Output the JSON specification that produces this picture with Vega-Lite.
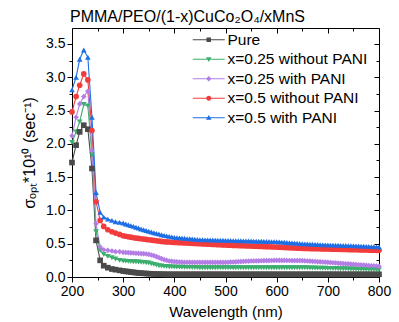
{
  "$schema": "https://vega.github.io/schema/vega-lite/v6.json",
  "width": 307,
  "height": 249,
  "autosize": {"type": "none"},
  "padding": {"left": 72, "top": 28, "right": 20, "bottom": 45},
  "title": {"text": "PMMA/PEO/(1-x)CuCo₂O₄/xMnS", "anchor": "start", "frame": "group", "fontSize": 16, "font": "Liberation Sans", "fontWeight": "normal", "color": "black", "offset": 3, "dx": -2},
  "data": {"values": [
    {"x":200,"p":1.72,"g":2.02,"v":2.12,"r":2.48,"b":2.81},
    {"x":208,"p":1.98,"g":2.18,"v":2.40,"r":2.71,"b":3.00},
    {"x":215,"p":2.18,"g":2.33,"v":2.60,"r":2.88,"b":3.27},
    {"x":223,"p":2.28,"g":2.59,"v":2.71,"r":3.05,"b":3.41},
    {"x":231,"p":2.22,"g":2.57,"v":2.79,"r":2.96,"b":3.30},
    {"x":239,"p":1.63,"g":1.83,"v":1.90,"r":2.20,"b":2.40},
    {"x":247,"p":0.55,"g":0.68,"v":0.80,"r":1.13,"b":1.27},
    {"x":255,"p":0.25,"g":0.40,"v":0.45,"r":0.85,"b":0.97},
    {"x":262,"p":0.17,"g":0.34,"v":0.41,"r":0.76,"b":0.90},
    {"x":270,"p":0.14,"g":0.31,"v":0.40,"r":0.71,"b":0.87},
    {"x":278,"p":0.12,"g":0.29,"v":0.39,"r":0.68,"b":0.85},
    {"x":285,"p":0.11,"g":0.27,"v":0.38,"r":0.66,"b":0.83},
    {"x":293,"p":0.10,"g":0.25,"v":0.38,"r":0.64,"b":0.82},
    {"x":300,"p":0.09,"g":0.24,"v":0.37,"r":0.62,"b":0.81},
    {"x":305,"p":0.085,"g":0.238,"v":0.368,"r":0.612,"b":0.797},
    {"x":310,"p":0.08,"g":0.235,"v":0.365,"r":0.605,"b":0.785},
    {"x":315,"p":0.075,"g":0.232,"v":0.362,"r":0.598,"b":0.772},
    {"x":320,"p":0.07,"g":0.23,"v":0.36,"r":0.59,"b":0.76},
    {"x":325,"p":0.065,"g":0.228,"v":0.357,"r":0.585,"b":0.747},
    {"x":330,"p":0.06,"g":0.225,"v":0.355,"r":0.58,"b":0.735},
    {"x":335,"p":0.058,"g":0.222,"v":0.352,"r":0.575,"b":0.722},
    {"x":340,"p":0.055,"g":0.22,"v":0.35,"r":0.57,"b":0.71},
    {"x":345,"p":0.052,"g":0.215,"v":0.345,"r":0.565,"b":0.699},
    {"x":350,"p":0.05,"g":0.21,"v":0.34,"r":0.56,"b":0.688},
    {"x":355,"p":0.048,"g":0.20,"v":0.33,"r":0.555,"b":0.676},
    {"x":360,"p":0.045,"g":0.19,"v":0.32,"r":0.55,"b":0.665},
    {"x":365,"p":0.044,"g":0.18,"v":0.305,"r":0.545,"b":0.655},
    {"x":370,"p":0.043,"g":0.17,"v":0.29,"r":0.54,"b":0.645},
    {"x":375,"p":0.042,"g":0.165,"v":0.275,"r":0.535,"b":0.635},
    {"x":380,"p":0.041,"g":0.16,"v":0.26,"r":0.53,"b":0.625},
    {"x":385,"p":0.04,"g":0.157,"v":0.25,"r":0.527,"b":0.617},
    {"x":390,"p":0.04,"g":0.155,"v":0.24,"r":0.525,"b":0.61},
    {"x":395,"p":0.04,"g":0.152,"v":0.235,"r":0.522,"b":0.602},
    {"x":400,"p":0.04,"g":0.15,"v":0.23,"r":0.52,"b":0.595},
    {"x":405,"p":0.04,"g":0.149,"v":0.228,"r":0.518,"b":0.591},
    {"x":410,"p":0.04,"g":0.148,"v":0.225,"r":0.516,"b":0.588},
    {"x":415,"p":0.04,"g":0.147,"v":0.224,"r":0.514,"b":0.584},
    {"x":420,"p":0.04,"g":0.146,"v":0.222,"r":0.512,"b":0.581},
    {"x":425,"p":0.04,"g":0.145,"v":0.221,"r":0.51,"b":0.577},
    {"x":430,"p":0.04,"g":0.144,"v":0.22,"r":0.508,"b":0.574},
    {"x":435,"p":0.04,"g":0.143,"v":0.22,"r":0.506,"b":0.57},
    {"x":440,"p":0.04,"g":0.142,"v":0.22,"r":0.504,"b":0.567},
    {"x":445,"p":0.04,"g":0.141,"v":0.22,"r":0.502,"b":0.563},
    {"x":450,"p":0.04,"g":0.14,"v":0.22,"r":0.50,"b":0.56},
    {"x":455,"p":0.04,"g":0.14,"v":0.22,"r":0.498,"b":0.559},
    {"x":460,"p":0.04,"g":0.14,"v":0.22,"r":0.496,"b":0.558},
    {"x":465,"p":0.04,"g":0.14,"v":0.22,"r":0.494,"b":0.557},
    {"x":470,"p":0.04,"g":0.14,"v":0.22,"r":0.492,"b":0.556},
    {"x":475,"p":0.04,"g":0.14,"v":0.22,"r":0.49,"b":0.555},
    {"x":480,"p":0.04,"g":0.14,"v":0.22,"r":0.488,"b":0.554},
    {"x":485,"p":0.04,"g":0.14,"v":0.22,"r":0.486,"b":0.553},
    {"x":490,"p":0.04,"g":0.14,"v":0.22,"r":0.484,"b":0.552},
    {"x":495,"p":0.04,"g":0.14,"v":0.22,"r":0.482,"b":0.551},
    {"x":500,"p":0.04,"g":0.14,"v":0.22,"r":0.48,"b":0.55},
    {"x":505,"p":0.04,"g":0.14,"v":0.222,"r":0.478,"b":0.549},
    {"x":510,"p":0.04,"g":0.14,"v":0.224,"r":0.477,"b":0.548},
    {"x":515,"p":0.04,"g":0.14,"v":0.226,"r":0.475,"b":0.547},
    {"x":520,"p":0.04,"g":0.14,"v":0.228,"r":0.474,"b":0.546},
    {"x":525,"p":0.04,"g":0.14,"v":0.23,"r":0.472,"b":0.545},
    {"x":530,"p":0.04,"g":0.14,"v":0.232,"r":0.471,"b":0.544},
    {"x":535,"p":0.04,"g":0.14,"v":0.234,"r":0.469,"b":0.543},
    {"x":540,"p":0.04,"g":0.14,"v":0.236,"r":0.468,"b":0.542},
    {"x":545,"p":0.04,"g":0.14,"v":0.238,"r":0.466,"b":0.541},
    {"x":550,"p":0.04,"g":0.14,"v":0.24,"r":0.465,"b":0.54},
    {"x":555,"p":0.04,"g":0.14,"v":0.241,"r":0.463,"b":0.539},
    {"x":560,"p":0.04,"g":0.14,"v":0.242,"r":0.462,"b":0.538},
    {"x":565,"p":0.04,"g":0.14,"v":0.243,"r":0.46,"b":0.537},
    {"x":570,"p":0.04,"g":0.14,"v":0.244,"r":0.459,"b":0.536},
    {"x":575,"p":0.04,"g":0.14,"v":0.245,"r":0.457,"b":0.535},
    {"x":580,"p":0.04,"g":0.14,"v":0.246,"r":0.456,"b":0.534},
    {"x":585,"p":0.04,"g":0.14,"v":0.247,"r":0.454,"b":0.533},
    {"x":590,"p":0.04,"g":0.14,"v":0.248,"r":0.453,"b":0.532},
    {"x":595,"p":0.04,"g":0.14,"v":0.249,"r":0.451,"b":0.531},
    {"x":600,"p":0.04,"g":0.14,"v":0.25,"r":0.45,"b":0.53},
    {"x":605,"p":0.04,"g":0.14,"v":0.25,"r":0.448,"b":0.527},
    {"x":610,"p":0.04,"g":0.14,"v":0.249,"r":0.446,"b":0.524},
    {"x":615,"p":0.04,"g":0.14,"v":0.249,"r":0.444,"b":0.521},
    {"x":620,"p":0.04,"g":0.14,"v":0.248,"r":0.442,"b":0.518},
    {"x":625,"p":0.04,"g":0.14,"v":0.248,"r":0.44,"b":0.515},
    {"x":630,"p":0.04,"g":0.14,"v":0.247,"r":0.438,"b":0.512},
    {"x":635,"p":0.04,"g":0.14,"v":0.247,"r":0.436,"b":0.509},
    {"x":640,"p":0.04,"g":0.14,"v":0.246,"r":0.434,"b":0.506},
    {"x":645,"p":0.04,"g":0.14,"v":0.246,"r":0.432,"b":0.503},
    {"x":650,"p":0.04,"g":0.14,"v":0.245,"r":0.43,"b":0.50},
    {"x":655,"p":0.04,"g":0.139,"v":0.243,"r":0.429,"b":0.498},
    {"x":660,"p":0.04,"g":0.138,"v":0.24,"r":0.428,"b":0.496},
    {"x":665,"p":0.04,"g":0.137,"v":0.238,"r":0.427,"b":0.494},
    {"x":670,"p":0.04,"g":0.136,"v":0.235,"r":0.426,"b":0.492},
    {"x":675,"p":0.04,"g":0.135,"v":0.233,"r":0.425,"b":0.49},
    {"x":680,"p":0.04,"g":0.134,"v":0.23,"r":0.424,"b":0.488},
    {"x":685,"p":0.04,"g":0.133,"v":0.228,"r":0.423,"b":0.486},
    {"x":690,"p":0.04,"g":0.132,"v":0.225,"r":0.422,"b":0.484},
    {"x":695,"p":0.04,"g":0.131,"v":0.223,"r":0.421,"b":0.482},
    {"x":700,"p":0.04,"g":0.13,"v":0.22,"r":0.42,"b":0.48},
    {"x":705,"p":0.04,"g":0.129,"v":0.217,"r":0.419,"b":0.479},
    {"x":710,"p":0.04,"g":0.128,"v":0.214,"r":0.418,"b":0.478},
    {"x":715,"p":0.04,"g":0.127,"v":0.211,"r":0.417,"b":0.477},
    {"x":720,"p":0.04,"g":0.126,"v":0.208,"r":0.416,"b":0.476},
    {"x":725,"p":0.04,"g":0.125,"v":0.205,"r":0.415,"b":0.475},
    {"x":730,"p":0.04,"g":0.124,"v":0.202,"r":0.414,"b":0.474},
    {"x":735,"p":0.04,"g":0.123,"v":0.199,"r":0.413,"b":0.473},
    {"x":740,"p":0.04,"g":0.122,"v":0.196,"r":0.412,"b":0.472},
    {"x":745,"p":0.04,"g":0.121,"v":0.193,"r":0.411,"b":0.471},
    {"x":750,"p":0.04,"g":0.12,"v":0.19,"r":0.41,"b":0.47},
    {"x":755,"p":0.04,"g":0.119,"v":0.187,"r":0.409,"b":0.468},
    {"x":760,"p":0.04,"g":0.118,"v":0.184,"r":0.408,"b":0.466},
    {"x":765,"p":0.04,"g":0.117,"v":0.181,"r":0.407,"b":0.464},
    {"x":770,"p":0.04,"g":0.116,"v":0.178,"r":0.406,"b":0.462},
    {"x":775,"p":0.04,"g":0.115,"v":0.175,"r":0.405,"b":0.46},
    {"x":780,"p":0.04,"g":0.114,"v":0.172,"r":0.404,"b":0.458},
    {"x":785,"p":0.04,"g":0.113,"v":0.169,"r":0.403,"b":0.456},
    {"x":790,"p":0.04,"g":0.112,"v":0.166,"r":0.402,"b":0.454},
    {"x":795,"p":0.04,"g":0.111,"v":0.163,"r":0.401,"b":0.452},
    {"x":800,"p":0.04,"g":0.11,"v":0.16,"r":0.40,"b":0.45}
  ]},
  "transform": [{"fold": ["p", "g", "v", "r", "b"], "as": ["s", "y"]}],
  "layer": [
    {
      "mark": {"type": "line", "strokeWidth": 1.1},
      "encoding": {
        "x": {"field": "x", "type": "quantitative", "scale": {"domain": [200, 800], "nice": false, "zero": false},
          "axis": {"orient": "bottom", "title": "Wavelength (nm)", "values": [200,250,300,350,400,450,500,550,600,650,700,750,800],
            "labelExpr": "datum.value % 100 == 0 ? datum.value : ''",
            "tickSize": {"condition": {"test": "datum.value % 100 == 0", "value": 5}, "value": 3},
            "titlePadding": 6}},
        "y": {"field": "y", "type": "quantitative", "scale": {"domain": [0, 3.74], "nice": false, "zero": false},
          "axis": {"orient": "left", "title": "σₒₚₜ*10¹⁰ (sec⁻¹)", "values": [0,0.25,0.5,0.75,1,1.25,1.5,1.75,2,2.25,2.5,2.75,3,3.25,3.5],
            "labelExpr": "datum.value % 0.5 == 0 ? format(datum.value, '.1f') : ''",
            "tickSize": {"condition": {"test": "datum.value % 0.5 == 0", "value": 5}, "value": 3},
            "titlePadding": 8, "titleFontSize": 16}},
        "color": {"field": "s", "type": "nominal",
          "scale": {"domain": ["p", "g", "v", "r", "b"], "range": ["#4a4a4a", "#3cae6e", "#b47ee5", "#f23c3c", "#1e6fe6"]},
          "legend": null}
      }
    },
    {
      "mark": {"type": "point", "filled": true, "size": 32, "opacity": 1},
      "encoding": {
        "x": {"field": "x", "type": "quantitative", "axis": null},
        "y": {"field": "y", "type": "quantitative", "axis": null},
        "color": {"field": "s", "type": "nominal",
          "scale": {"domain": ["p", "g", "v", "r", "b"], "range": ["#4a4a4a", "#3cae6e", "#b47ee5", "#f23c3c", "#1e6fe6"]},
          "legend": null},
        "shape": {"field": "s", "type": "nominal",
          "scale": {"domain": ["p", "g", "v", "r", "b"], "range": ["square", "triangle-down", "diamond", "circle", "triangle-up"]},
          "legend": null}
      }
    },
    {
      "transform": [{"filter": "datum.x == 800"}],
      "mark": {"type": "point", "filled": true, "opacity": 0},
      "encoding": {
        "x": {"field": "x", "type": "quantitative",
          "axis": {"orient": "top", "title": null, "labels": false, "values": [200,250,300,350,400,450,500,550,600,650,700,750,800],
            "tickSize": {"condition": {"test": "datum.value % 100 == 0", "value": -5}, "value": -3}}},
        "y": {"field": "y", "type": "quantitative",
          "axis": {"orient": "right", "title": null, "labels": false, "values": [0,0.25,0.5,0.75,1,1.25,1.5,1.75,2,2.25,2.5,2.75,3,3.25,3.5],
            "tickSize": {"condition": {"test": "datum.value % 0.5 == 0", "value": -5}, "value": -3}}},
        "color": {"field": "s", "type": "nominal",
          "scale": {"domain": ["p", "g", "v", "r", "b"], "range": ["#4a4a4a", "#3cae6e", "#b47ee5", "#f23c3c", "#1e6fe6"]},
          "legend": {"orient": "none", "legendX": 129, "legendY": 4, "title": null, "padding": 0,
            "symbolSize": 100, "symbolStrokeWidth": 0, "symbolOpacity": 1, "labelOffset": 11, "rowPadding": 2.5,
            "labelFontSize": 15.5, "labelFont": "Liberation Sans", "labelColor": "black", "labelLimit": 300,
            "labelExpr": "{'p': 'Pure', 'g': 'x=0.25 without PANI', 'v': 'x=0.25 with PANI', 'r': 'x=0.5 without PANI', 'b': 'x=0.5 with PANI'}[datum.value]",
            "encode": {"symbols": {"update": {"opacity": {"value": 1}, "fillOpacity": {"value": 1}}}}}},
        "shape": {"field": "s", "type": "nominal",
          "scale": {"domain": ["p", "g", "v", "r", "b"], "range": [
            "M-3.2,-0.12H3.2V0.12H-3.2Z M-0.45,-0.45H0.45V0.45H-0.45Z",
            "M-3.2,-0.12H3.2V0.12H-3.2Z M-0.55,-0.4H0.55L0,0.55Z",
            "M-3.2,-0.12H3.2V0.12H-3.2Z M0,-0.55L0.55,0L0,0.55L-0.55,0Z",
            "M-3.2,-0.12H3.2V0.12H-3.2Z M-0.5,0A0.5,0.5 0 1,1 0.5,0A0.5,0.5 0 1,1 -0.5,0Z",
            "M-3.2,-0.12H3.2V0.12H-3.2Z M0,-0.55L0.55,0.4H-0.55Z"]},
          "legend": {"orient": "none", "legendX": 129, "legendY": 4, "title": null, "padding": 0,
            "symbolSize": 100, "symbolStrokeWidth": 0, "symbolOpacity": 1, "labelOffset": 11, "rowPadding": 2.5,
            "labelFontSize": 15.5, "labelFont": "Liberation Sans", "labelColor": "black", "labelLimit": 300,
            "labelExpr": "{'p': 'Pure', 'g': 'x=0.25 without PANI', 'v': 'x=0.25 with PANI', 'r': 'x=0.5 without PANI', 'b': 'x=0.5 with PANI'}[datum.value]",
            "encode": {"symbols": {"update": {"opacity": {"value": 1}, "fillOpacity": {"value": 1}}}}}}
      }
    }
  ],
  "resolve": {"scale": {"shape": "independent", "color": "independent"}, "axis": {"x": "independent", "y": "independent"}},
  "config": {
    "view": {"stroke": null},
    "axis": {"grid": false, "domainColor": "black", "domainWidth": 1, "tickColor": "black", "tickWidth": 1,
      "labelFont": "Liberation Sans", "labelFontSize": 14, "labelColor": "black", "labelOverlap": false, "labelFlush": false, "labelPadding": 2,
      "titleFont": "Liberation Sans", "titleFontSize": 15, "titleFontWeight": "normal", "titleColor": "black"}
  }
}
